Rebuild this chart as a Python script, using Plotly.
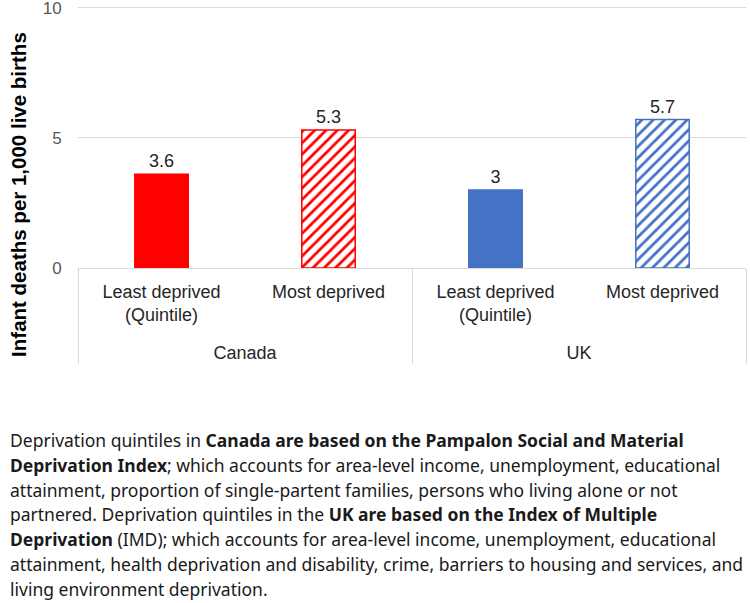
import plotly.graph_objects as go

countries = ["Canada", "Canada", "UK", "UK"]
quintiles = ["Least deprived<br>(Quintile)", "Most deprived", "Least deprived<br>(Quintile)", "Most deprived"]
values = [3.6, 5.3, 3.0, 5.7]
labels = ["3.6", "5.3", "3", "5.7"]
colors = ["#FF0000", "#FF0000", "#4472C4", "#4472C4"]
hatched = [False, True, False, True]
y_ticks = [0, 5, 10]
y_title = "Infant deaths per 1,000 live births"

footnote_lines = [
    "Deprivation quintiles in <b>Canada are based on the Pampalon Social and Material</b>",
    "<b>Deprivation Index</b>; which accounts for area-level income, unemployment, educational",
    "attainment, proportion of single-partent families, persons who living alone or not",
    "partnered. Deprivation quintiles in the <b>UK are based on the Index of Multiple</b>",
    "<b>Deprivation</b> (IMD); which accounts for area-level income, unemployment, educational",
    "attainment, health deprivation and disability, crime, barriers to housing and services, and",
    "living environment deprivation.",
]

fig = go.Figure()
for i in range(len(values)):
    c = colors[i]
    h = hatched[i]
    fig.add_trace(go.Bar(
        x=[["<br>" + countries[i]], [quintiles[i]]],
        y=[values[i]],
        text=[labels[i]],
        textposition="outside",
        textfont=dict(family="Liberation Sans, Arial", size=18, color="#262626"),
        cliponaxis=False,
        width=0.32,
        marker=dict(
            color="white" if h else c,
            line=dict(color=c, width=1.5),
            pattern=dict(
                shape="/" if h else "",
                fgcolor=c,
                bgcolor="white",
                size=8,
                solidity=0.35,
                fillmode="replace",
            ),
        ),
        showlegend=False,
    ))

YMAX = 10.1
PLOT_L, PLOT_R, PLOT_B = 78, 746, 268
PLOT_T = PLOT_B - 26 * YMAX
ph = PLOT_B - PLOT_T
pw = PLOT_R - PLOT_L

fig.add_annotation(
    text="<b>" + y_title + "</b>",
    xref="paper", yref="paper",
    x=(19 - PLOT_L) / pw, y=(PLOT_B - 195) / ph,
    xanchor="center", yanchor="middle",
    textangle=-90, showarrow=False,
    font=dict(family="Liberation Sans, Arial", size=20.5, color="black"),
)

for k, line in enumerate(footnote_lines):
    ypix = 440 + k * 24.7
    fig.add_annotation(
        text=line,
        xref="paper", yref="paper",
        x=(8 - PLOT_L) / pw, y=(PLOT_B - ypix) / ph,
        xanchor="left", yanchor="middle",
        align="left", showarrow=False,
        font=dict(family="Noto Sans", size=17.5, color="#1a1a1a"),
    )

fig.update_layout(
    width=750, height=603,
    margin=dict(l=PLOT_L, r=750 - PLOT_R, t=PLOT_T, b=603 - PLOT_B, autoexpand=False),
    paper_bgcolor="white", plot_bgcolor="white",
    font=dict(family="Liberation Sans, Arial", size=18, color="#404040"),
    barmode="overlay",
    yaxis=dict(
        range=[0, YMAX], tickvals=y_ticks,
        showgrid=True, gridcolor="#D9D9D9", gridwidth=1,
        zeroline=False, automargin=False,
        tickfont=dict(size=17, color="#595959"),
        ticklabeloverflow="allow",
        ticks="outside", ticklen=12, tickcolor="rgba(0,0,0,0)",
    ),
    xaxis=dict(
        type="multicategory", automargin=False,
        showline=True, linecolor="#D9D9D9", linewidth=1,
        showdividers=True, dividercolor="#D9D9D9", dividerwidth=1,
        ticks="", ticklabelstandoff=7,
        tickfont=dict(size=18, color="#262626"),
        showgrid=False,
    ),
)

fig.write_html("out.html", config={"displayModeBar": False},
               post_script="document.body.style.margin='0';")
